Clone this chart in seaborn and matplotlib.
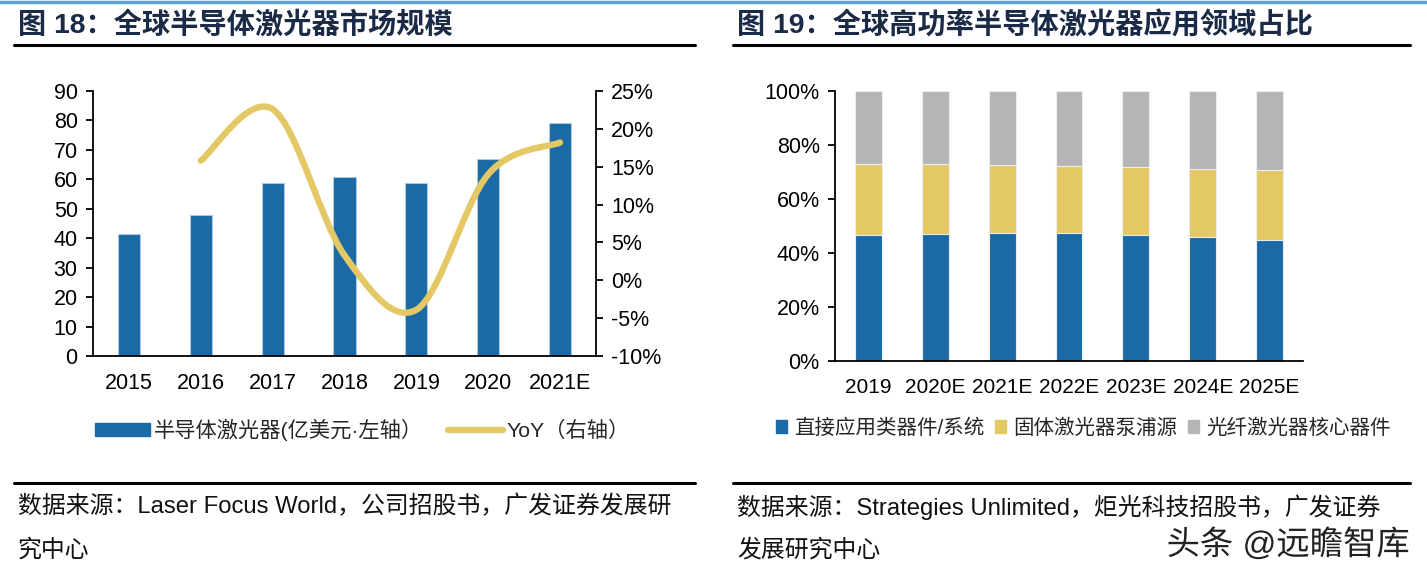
import numpy as np
import pandas as pd
import matplotlib
matplotlib.use("Agg")
import matplotlib.pyplot as plt
import seaborn as sns
from matplotlib.path import Path
from matplotlib.patches import PathPatch, Patch
from matplotlib.lines import Line2D
from matplotlib.ticker import FuncFormatter, MultipleLocator
import matplotlib.patheffects as pe

# ---------------- data ----------------
years_left = ["2015", "2016", "2017", "2018", "2019", "2020", "2021E"]
market_size = [41.5, 48.0, 58.9, 60.9, 58.6, 66.8, 79.2]          # 亿美元
yoy = [np.nan, 15.8, 22.6, 3.3, -3.9, 14.0, 18.2]                  # %

years_right = ["2019", "2020E", "2021E", "2022E", "2023E", "2024E", "2025E"]
direct_app = [46.5, 47.0, 47.4, 47.4, 46.5, 45.8, 44.8]            # 直接应用类器件/系统
solid_pump = [26.4, 25.9, 25.1, 24.9, 25.3, 25.4, 25.8]            # 固体激光器泵浦源
fiber_core = [27.1, 27.1, 27.5, 27.7, 28.2, 28.8, 29.4]            # 光纤激光器核心器件

title_left = "图 18：全球半导体激光器市场规模"
title_right = "图 19：全球高功率半导体激光器应用领域占比"
src_left = ["数据来源：Laser Focus World，公司招股书，广发证券发展研", "究中心"]
src_right = ["数据来源：Strategies Unlimited，炬光科技招股书，广发证券", "发展研究中心"]
legend_left = ["半导体激光器(亿美元·左轴）", "YoY（右轴）"]
legend_right = ["直接应用类器件/系统", "固体激光器泵浦源", "光纤激光器核心器件"]
watermark = "头条 @远瞻智库"

# ---------------- style ----------------
BLUE = "#1B6AA5"
YELLOW = "#E4C865"
GRAY = "#B5B5B5"
NAVY = "#1B2A47"

sns.set_theme(style="white")
plt.rcParams["font.family"] = ["Liberation Sans", "Noto Sans CJK SC", "DejaVu Sans"]
plt.rcParams["axes.unicode_minus"] = False

W, H = 1427, 579
fig = plt.figure(figsize=(W / 100, H / 100), dpi=100)

def fx(px):
    return px / W

def fy(py):
    return 1 - py / H

TICK_FS = 15.5

# ---------------- left chart ----------------
axL = fig.add_axes([fx(93), fy(356), fx(596) - fx(93), fy(91) - fy(356)])
dfL = pd.DataFrame({"year": years_left, "size": market_size})
sns.barplot(data=dfL, x="year", y="size", color=BLUE, width=0.31,
            edgecolor="#A9CBE6", linewidth=0.8, saturation=1, ax=axL)
axL.set_xlim(-0.5, 6.5)
axL.set_ylim(0, 90)
axL.yaxis.set_major_locator(MultipleLocator(10))
axL.set_xlabel("")
axL.set_ylabel("")

axR2 = axL.twinx()
axR2.set_ylim(-10, 25)
axR2.yaxis.set_major_locator(MultipleLocator(5))
axR2.yaxis.set_major_formatter(FuncFormatter(lambda v, p: f"{v:.0f}%"))

# smoothed YoY line (Catmull-Rom style Bezier through the data points)
pts = [(i, v) for i, v in enumerate(yoy) if not np.isnan(v)]
P = np.array(pts, dtype=float)
verts = [tuple(P[0])]
codes = [Path.MOVETO]
n = len(P)
for i in range(n - 1):
    p0 = P[i - 1] if i > 0 else P[i]
    p1 = P[i]
    p2 = P[i + 1]
    p3 = P[i + 2] if i + 2 < n else P[i + 1]
    c1 = p1 + (p2 - p0) / 6.0
    c2 = p2 - (p3 - p1) / 6.0
    verts += [tuple(c1), tuple(c2), tuple(p2)]
    codes += [Path.CURVE4, Path.CURVE4, Path.CURVE4]
line_patch = PathPatch(Path(verts, codes), facecolor="none", edgecolor=YELLOW,
                       lw=4.6, capstyle="round", joinstyle="round", zorder=5)
axR2.add_patch(line_patch)

for ax in (axL, axR2):
    for s in ax.spines.values():
        s.set_color("black")
        s.set_linewidth(1.3)
    ax.spines["top"].set_visible(False)
    ax.grid(False)
axL.spines["right"].set_visible(False)
axR2.spines["left"].set_visible(False)
axR2.spines["bottom"].set_visible(False)

axL.set_xticks(range(7))
axL.set_xticklabels(years_left)
axL.set_xticks(np.arange(-0.5, 7, 1), minor=True)
axL.tick_params(axis="x", which="major", length=0, pad=12, labelsize=TICK_FS, colors="black")
axL.tick_params(axis="x", which="minor", length=5, width=1.3, direction="out", color="black")
axL.tick_params(axis="y", which="major", left=True, length=5, width=1.3, direction="out",
                labelsize=TICK_FS, pad=6, colors="black")
axR2.tick_params(axis="y", which="major", right=True, length=5, width=1.3, direction="out",
                 labelsize=TICK_FS, pad=6, colors="black")

# left legend
hL = [Patch(facecolor=BLUE, edgecolor=BLUE),
      Line2D([0], [0], color=YELLOW, lw=4.6, solid_capstyle="round")]
fig.legend(hL, legend_left, loc="center left", bbox_to_anchor=(fx(95), fy(430)),
           ncol=2, frameon=False, fontsize=15.3, handlelength=2.6, handleheight=0.55,
           handletextpad=0.15, columnspacing=1.2, borderaxespad=0, borderpad=0)

# ---------------- right chart ----------------
axB = fig.add_axes([fx(835), fy(361), fx(1303) - fx(835), fy(91) - fy(361)])
tot3 = [a + b + c for a, b, c in zip(direct_app, solid_pump, fiber_core)]
tot2 = [a + b for a, b in zip(direct_app, solid_pump)]
dfR = pd.DataFrame({"year": years_right, "t3": tot3, "t2": tot2, "t1": direct_app})
for col, c in (("t3", GRAY), ("t2", YELLOW), ("t1", BLUE)):
    sns.barplot(data=dfR, x="year", y=col, color=c, width=0.4, saturation=1,
                edgecolor="#EDEDED", linewidth=0.8, ax=axB)
axB.set_xlim(-0.5, 6.5)
axB.set_ylim(0, 100)
axB.yaxis.set_major_locator(MultipleLocator(20))
axB.yaxis.set_major_formatter(FuncFormatter(lambda v, p: f"{v:.0f}%"))
axB.set_xlabel("")
axB.set_ylabel("")
for s in ("top", "right"):
    axB.spines[s].set_visible(False)
for s in ("left", "bottom"):
    axB.spines[s].set_color("black")
    axB.spines[s].set_linewidth(1.3)
axB.grid(False)
axB.set_xticks(range(7))
axB.set_xticklabels(years_right)
axB.set_xticks(np.arange(-0.5, 7, 1), minor=True)
axB.tick_params(axis="x", which="major", length=0, pad=12, labelsize=15, colors="black")
axB.tick_params(axis="x", which="minor", length=5, width=1.3, direction="out", color="black")
axB.tick_params(axis="y", which="major", left=True, length=5, width=1.3, direction="out",
                labelsize=TICK_FS, pad=6, colors="black")

hR = [Patch(facecolor=c, edgecolor=c) for c in (BLUE, YELLOW, GRAY)]
fig.legend(hR, legend_right, loc="center left", bbox_to_anchor=(fx(776), fy(428)),
           ncol=3, frameon=False, fontsize=14.8, handlelength=0.55, handleheight=0.55,
           handletextpad=0.35, columnspacing=0.5, borderaxespad=0, borderpad=0)

# ---------------- titles, rules, sources ----------------
fig.add_artist(Line2D([0, 1], [fy(1.5), fy(1.5)], color="#5BA3D9", lw=2.5, transform=fig.transFigure))
for x0, x1, t in ((14, 695, title_left), (733, 1410, title_right)):
    fig.text(fx(x0 + 4), fy(25), t, fontsize=20.3, fontweight="bold", color=NAVY,
             va="center", ha="left")
    fig.add_artist(Line2D([fx(x0), fx(x1)], [fy(45), fy(45)], color="black", lw=2.2,
                          transform=fig.transFigure))
    fig.add_artist(Line2D([fx(x0), fx(x1)], [fy(483), fy(483)], color="black", lw=2.2,
                          transform=fig.transFigure))

for x0, lines in ((18, src_left), (737, src_right)):
    fig.text(fx(x0), fy(507), lines[0], fontsize=17.2, color="#111111", va="center", ha="left")
    fig.text(fx(x0), fy(550), lines[1], fontsize=17.2, color="#111111", va="center", ha="left")

fig.text(fx(1410), fy(545), watermark, fontsize=24, color="#222222", va="center", ha="right",
         path_effects=[pe.withStroke(linewidth=2.5, foreground="white")])

fig.savefig("out.png", dpi=100)
